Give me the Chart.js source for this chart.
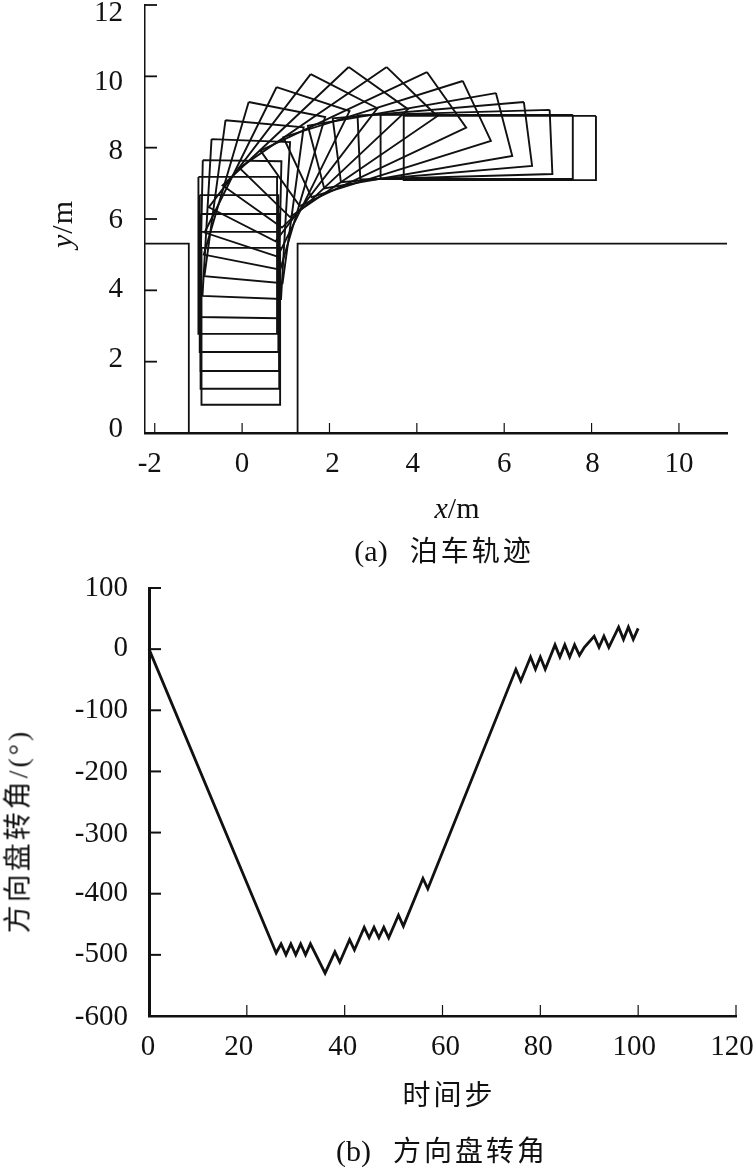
<!DOCTYPE html>
<html>
<head>
<meta charset="utf-8">
<script src="https://cdn.jsdelivr.net/npm/chart.js@4/dist/chart.umd.min.js"></script>
<style>
html,body{margin:0;padding:0;background:#fff;width:754px;height:1167px;overflow:hidden;position:relative}
.box{position:absolute;left:0}
.txt{position:absolute;white-space:pre;color:#111;font-family:"Liberation Serif","Noto Sans CJK SC",serif;font-size:30px;line-height:1;transform:translate(-50%,-50%)}
.cjk{font-family:"Noto Sans CJK SC";font-size:28px;letter-spacing:3px}
.cap{margin-left:22px}
</style>
</head>
<body>
<div class="box" style="top:-20px;width:800px;height:520px"><canvas id="a" width="800" height="520"></canvas></div>
<div class="box" style="top:560px;width:800px;height:607px"><canvas id="b" width="800" height="607"></canvas></div>
<div class="txt" style="left:62px;top:224px;letter-spacing:1px;transform:translate(-50%,-50%) rotate(-90deg)"><i>y</i>/m</div>
<div class="txt" style="left:457px;top:508px"><i>x</i>/m</div>
<div class="txt" style="left:444px;top:550px">(a)<span class="cjk cap">泊车轨迹</span></div>
<div class="txt" style="left:17px;top:831px;font-size:28px;letter-spacing:3px;transform:translate(-50%,-50%) rotate(-90deg)"><span class="cjk">方向盘转角</span>/(°)</div>
<div class="txt cjk" style="left:449px;top:1093px">时间步</div>
<div class="txt" style="left:442px;top:1150px">(b)<span class="cjk cap">方向盘转角</span></div>
<script>
// (a) parking trajectory: front-left corner of the car and its heading (deg clockwise from +y)
const carWidth = 1.8;
const carLength = 4.4;
const poseX = [-0.93,-0.95,-0.95,-0.97,-1.00,-0.90,-0.70,-0.38,0.15,0.79,1.57,2.44,3.31,4.23,5.05,5.81,6.45,7.04,7.57,8.10];
const poseY = [5.19,5.64,6.14,6.67,7.18,7.65,8.24,8.77,9.28,9.70,10.06,10.26,10.26,10.12,9.87,9.53,9.28,9.06,8.92,8.89];
const poseHeading = [0,0,0,0,0,1,2.7,6.3,13.5,22,32,41,50,60,69,78,84,88,90,90];
const wallLeftX = [-2.22,-1.22,-1.22];
const wallLeftY = [5.31,5.31,0];
const wallRightX = [1.27,1.27,11.1];
const wallRightY = [0,5.31,5.31];
const xTicksA = [-2,0,2,4,6,8,10];
const yTicksA = [0,2,4,6,8,10,12];
// (b) steering wheel angle
const steps = [0,26,27,28,29,30,31,32,33,36,38,39,41,42,44,45,46,47,48,49,51,52,56,57,75,76,78,79,80,81,83,84,85,86,87,88,89,91,92,93,94,96,97,98,99,100];
const angles = [0,-497,-482,-500,-482,-500,-482,-500,-482,-530,-495,-512,-475,-492,-455,-472,-455,-472,-455,-472,-435,-453,-375,-392,-33,-52,-13,-33,-13,-33,7,-13,7,-13,7,-10,3,21,3,21,3,36,16,36,16,34];
const xTicksB = [0,20,40,60,80,100,120];
const yTicksB = [-600,-500,-400,-300,-200,-100,0,100];

const ink = '#111';
const tickFont = {family:'"Liberation Serif",serif', size:29};

function rectangle(i){
  const t = poseHeading[i]*Math.PI/180, s = Math.sin(t), c = Math.cos(t);
  const fl = {x:poseX[i], y:poseY[i]};
  const fr = {x:fl.x+carWidth*c, y:fl.y-carWidth*s};
  const rr = {x:fr.x-carLength*s, y:fr.y-carLength*c};
  const rl = {x:fl.x-carLength*s, y:fl.y-carLength*c};
  return [fl,fr,rr,rl,fl];
}
const zip = (xs,ys)=>xs.map((x,i)=>({x,y:ys[i]}));
const lineSet = (data,w)=>({data,showLine:true,borderColor:ink,borderWidth:w,pointRadius:0,tension:0,fill:false,borderJoinStyle:'miter',clip:false});

const inwardTicks = {
  id:'inwardTicks',
  beforeDraw(chart,_,o){
    [['x',o.xNudge,0],['y',o.yNudge,1]].forEach(([k,nudge,axisIdx])=>{
      chart.scales[k].getLabelItems().forEach((item,i)=>{
        if(item.options && item.options.translation && nudge[i]) item.options.translation[axisIdx] += nudge[i];
      });
    });
  },
  afterDraw(chart,_,o){
    const {ctx,chartArea:ca,scales} = chart;
    ctx.save(); ctx.strokeStyle = ink;
    ctx.lineWidth = o.xWidth;
    scales.x.ticks.forEach(t=>{const p=scales.x.getPixelForValue(t.value);ctx.beginPath();ctx.moveTo(p,ca.bottom);ctx.lineTo(p,ca.bottom-o.xLen);ctx.stroke();});
    ctx.lineWidth = o.yWidth;
    scales.y.ticks.forEach(t=>{const p=scales.y.getPixelForValue(t.value);ctx.beginPath();ctx.moveTo(ca.left,p);ctx.lineTo(ca.left+o.yLen,p);ctx.stroke();});
    ctx.restore();
  }
};

function axis(min,max,tickList,fixed,borderWidth,padding){
  return {
    type:'linear',min,max,
    afterBuildTicks(s){s.ticks = tickList.map(value=>({value}));},
    afterFit(s){ Object.assign(s,fixed,{paddingTop:0,paddingBottom:0,paddingLeft:0,paddingRight:0}); },
    grid:{drawOnChartArea:false,drawTicks:false},
    border:{display:true,color:ink,width:borderWidth},
    ticks:{color:ink,font:tickFont,padding,maxRotation:0,minRotation:0,autoSkip:false,callback:v=>String(v)}
  };
}
const base = {responsive:false,animation:false,events:[],plugins:{legend:{display:false},tooltip:{enabled:false}}};

new Chart(document.getElementById('a'),{
  type:'scatter',
  data:{datasets:[
    lineSet(zip(wallLeftX,wallLeftY),1.8),
    lineSet(zip(wallRightX,wallRightY),1.8),
    ...poseX.map((_,i)=>lineSet(rectangle(i),1.9))
  ]},
  options:{...base,
    layout:{padding:{top:25,left:0,right:73,bottom:7}},
    plugins:{...base.plugins,inwardTicks:{xLen:10,yLen:12,xWidth:1.2,yWidth:1.8,
      xNudge:[-5,0,3,-4,0,1,0], yNudge:[-4,-2,-1,1,4,6,8]}},
    scales:{
      x:axis(-2.223,11.1,xTicksA,{height:60},2.5,14),
      y:axis(0,12,yTicksA,{width:145},1.5,22)
    }
  },
  plugins:[inwardTicks]
});

new Chart(document.getElementById('b'),{
  type:'scatter',
  data:{datasets:[lineSet(zip(steps,angles),2.8)]},
  options:{...base,
    layout:{padding:{top:28,left:0,right:64,bottom:0}},
    plugins:{...base.plugins,inwardTicks:{xLen:11,yLen:12,xWidth:1.2,yWidth:2,
      xNudge:[-1,-8,-2,3,-2,-4,-4], yNudge:[1,0,0,2,1,0,-1,0]}},
    scales:{
      x:axis(0,120,xTicksB,{height:151},2.5,14),
      y:axis(-600,100,yTicksB,{width:149},3,21)
    }
  },
  plugins:[inwardTicks]
});
</script>
</body>
</html>
